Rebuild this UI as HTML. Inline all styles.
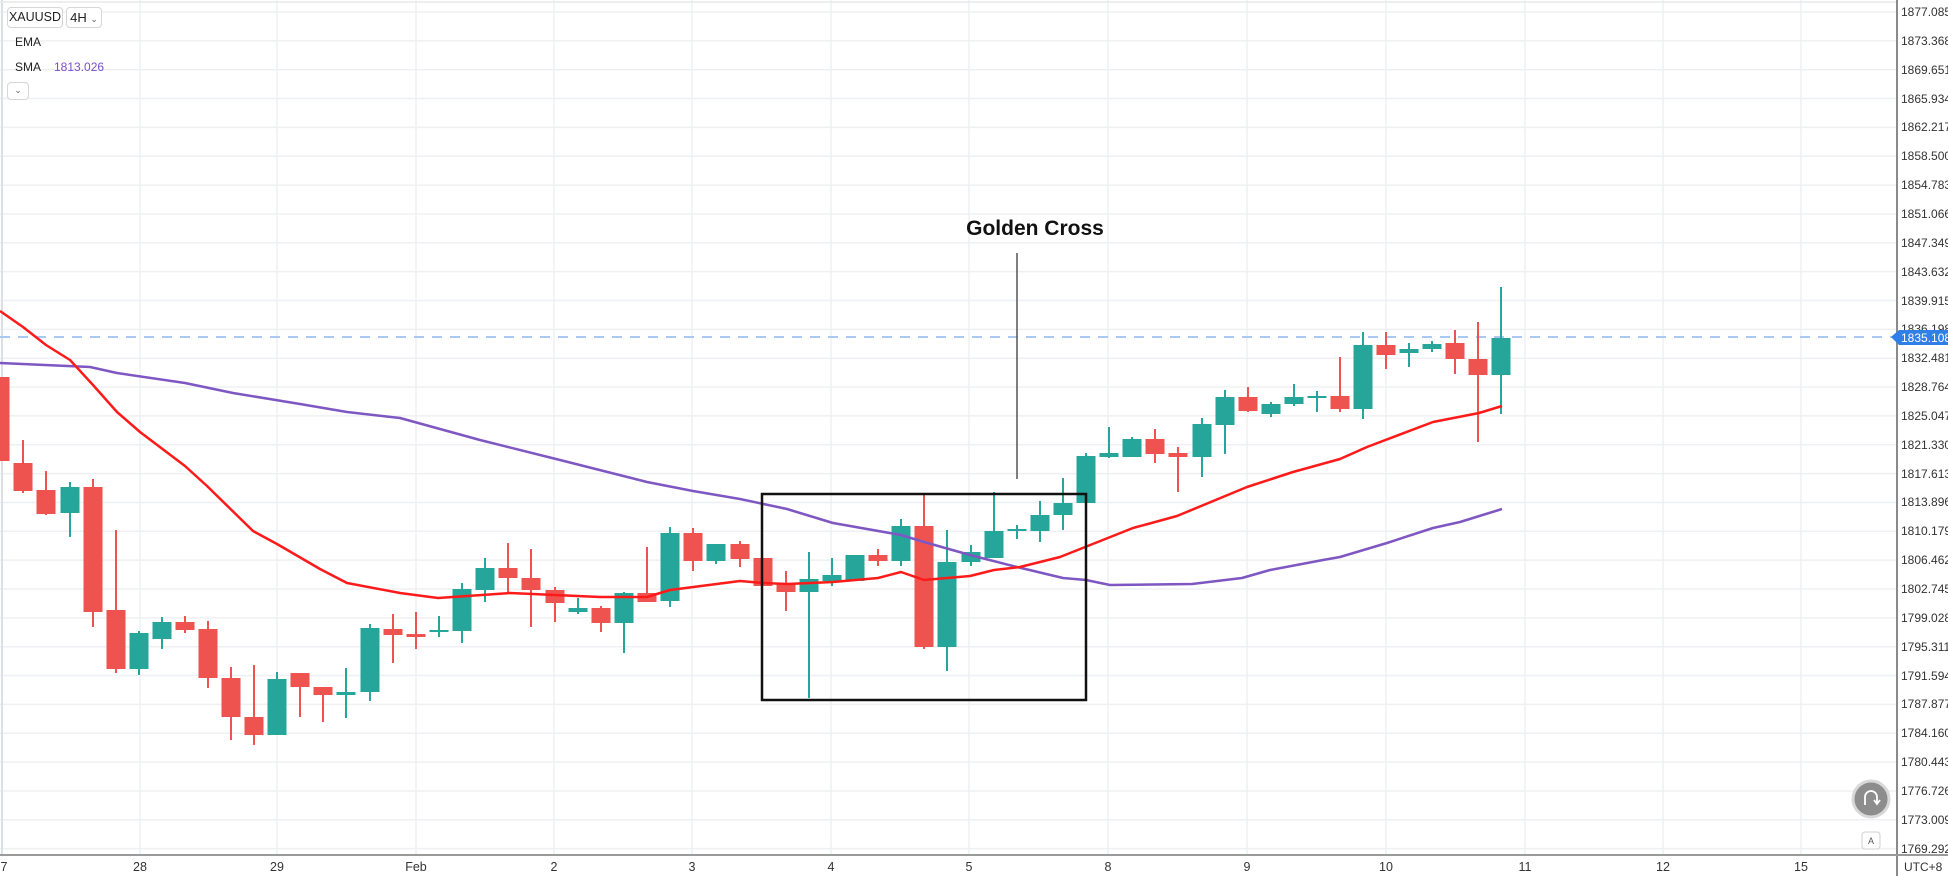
<!DOCTYPE html>
<html><head><meta charset="utf-8"><style>
html,body{margin:0;padding:0;background:#fff;}
body{width:1948px;height:876px;overflow:hidden;position:relative;font-family:"Liberation Sans",Arial,sans-serif;}
svg{position:absolute;left:0;top:0;}
.tb{position:absolute;border:1px solid #d6d6d6;border-radius:4px;background:#fff;font-size:13px;color:#222;height:19px;line-height:19px;padding:0;text-align:center;box-sizing:border-box;height:21px;}
.lg{position:absolute;font-size:12px;color:#222;}
</style></head><body>
<svg width="1948" height="876" viewBox="0 0 1948 876">
<g stroke="#eef0f3" stroke-width="1.5">
<line x1="0" y1="12" x2="1897" y2="12"/><line x1="0" y1="40.85" x2="1897" y2="40.85"/><line x1="0" y1="69.7" x2="1897" y2="69.7"/><line x1="0" y1="98.55" x2="1897" y2="98.55"/><line x1="0" y1="127.4" x2="1897" y2="127.4"/><line x1="0" y1="156.25" x2="1897" y2="156.25"/><line x1="0" y1="185.1" x2="1897" y2="185.1"/><line x1="0" y1="213.95" x2="1897" y2="213.95"/><line x1="0" y1="242.8" x2="1897" y2="242.8"/><line x1="0" y1="271.65" x2="1897" y2="271.65"/><line x1="0" y1="300.5" x2="1897" y2="300.5"/><line x1="0" y1="329.35" x2="1897" y2="329.35"/><line x1="0" y1="358.2" x2="1897" y2="358.2"/><line x1="0" y1="387.05" x2="1897" y2="387.05"/><line x1="0" y1="415.9" x2="1897" y2="415.9"/><line x1="0" y1="444.75" x2="1897" y2="444.75"/><line x1="0" y1="473.6" x2="1897" y2="473.6"/><line x1="0" y1="502.45" x2="1897" y2="502.45"/><line x1="0" y1="531.3" x2="1897" y2="531.3"/><line x1="0" y1="560.15" x2="1897" y2="560.15"/><line x1="0" y1="589" x2="1897" y2="589"/><line x1="0" y1="617.85" x2="1897" y2="617.85"/><line x1="0" y1="646.7" x2="1897" y2="646.7"/><line x1="0" y1="675.55" x2="1897" y2="675.55"/><line x1="0" y1="704.4" x2="1897" y2="704.4"/><line x1="0" y1="733.25" x2="1897" y2="733.25"/><line x1="0" y1="762.1" x2="1897" y2="762.1"/><line x1="0" y1="790.95" x2="1897" y2="790.95"/><line x1="0" y1="819.8" x2="1897" y2="819.8"/><line x1="0" y1="848.65" x2="1897" y2="848.65"/>
<line x1="140" y1="0" x2="140" y2="855"/><line x1="277" y1="0" x2="277" y2="855"/><line x1="416" y1="0" x2="416" y2="855"/><line x1="554" y1="0" x2="554" y2="855"/><line x1="692" y1="0" x2="692" y2="855"/><line x1="831" y1="0" x2="831" y2="855"/><line x1="969" y1="0" x2="969" y2="855"/><line x1="1108" y1="0" x2="1108" y2="855"/><line x1="1247" y1="0" x2="1247" y2="855"/><line x1="1386" y1="0" x2="1386" y2="855"/><line x1="1525" y1="0" x2="1525" y2="855"/><line x1="1663" y1="0" x2="1663" y2="855"/><line x1="1801" y1="0" x2="1801" y2="855"/>
</g>
<line x1="2" y1="0" x2="2" y2="855" stroke="#dcdfe5" stroke-width="2"/>
<line x1="0" y1="2" x2="1897" y2="2" stroke="#e6e8ec" stroke-width="1.5"/>
<line x1="0" y1="337" x2="1897" y2="337" stroke="#a9c8f2" stroke-width="2" stroke-dasharray="10,8"/>
<g id="c" stroke-width="2">
<line x1="0" y1="377" x2="0" y2="461" stroke="#ef5350"/><rect x="-9.5" y="377" width="19" height="84" fill="#ef5350"/>
<line x1="23" y1="440" x2="23" y2="493" stroke="#ef5350"/><rect x="13.5" y="463" width="19" height="28" fill="#ef5350"/>
<line x1="46" y1="471" x2="46" y2="515" stroke="#ef5350"/><rect x="36.5" y="490" width="19" height="24" fill="#ef5350"/>
<line x1="70" y1="482" x2="70" y2="537" stroke="#26a69a"/><rect x="60.5" y="487" width="19" height="26" fill="#26a69a"/>
<line x1="93" y1="479" x2="93" y2="627" stroke="#ef5350"/><rect x="83.5" y="487" width="19" height="125" fill="#ef5350"/>
<line x1="116" y1="530" x2="116" y2="673" stroke="#ef5350"/><rect x="106.5" y="610" width="19" height="59" fill="#ef5350"/>
<line x1="139" y1="631" x2="139" y2="675" stroke="#26a69a"/><rect x="129.5" y="633" width="19" height="36" fill="#26a69a"/>
<line x1="162" y1="617" x2="162" y2="649" stroke="#26a69a"/><rect x="152.5" y="622" width="19" height="17" fill="#26a69a"/>
<line x1="185" y1="616" x2="185" y2="633" stroke="#ef5350"/><rect x="175.5" y="622" width="19" height="8" fill="#ef5350"/>
<line x1="208" y1="621" x2="208" y2="688" stroke="#ef5350"/><rect x="198.5" y="629" width="19" height="49" fill="#ef5350"/>
<line x1="231" y1="667" x2="231" y2="740" stroke="#ef5350"/><rect x="221.5" y="678" width="19" height="39" fill="#ef5350"/>
<line x1="254" y1="665" x2="254" y2="745" stroke="#ef5350"/><rect x="244.5" y="717" width="19" height="18" fill="#ef5350"/>
<line x1="277" y1="672" x2="277" y2="735" stroke="#26a69a"/><rect x="267.5" y="679" width="19" height="56" fill="#26a69a"/>
<line x1="300" y1="673" x2="300" y2="717" stroke="#ef5350"/><rect x="290.5" y="673" width="19" height="14" fill="#ef5350"/>
<line x1="323" y1="687" x2="323" y2="722" stroke="#ef5350"/><rect x="313.5" y="687" width="19" height="8" fill="#ef5350"/>
<line x1="346" y1="668" x2="346" y2="718" stroke="#26a69a"/><rect x="336.5" y="692" width="19" height="3" fill="#26a69a"/>
<line x1="370" y1="624" x2="370" y2="701" stroke="#26a69a"/><rect x="360.5" y="628" width="19" height="64" fill="#26a69a"/>
<line x1="393" y1="614" x2="393" y2="663" stroke="#ef5350"/><rect x="383.5" y="629" width="19" height="6" fill="#ef5350"/>
<line x1="416" y1="612" x2="416" y2="649" stroke="#ef5350"/><rect x="406.5" y="634" width="19" height="3" fill="#ef5350"/>
<line x1="439" y1="616" x2="439" y2="637" stroke="#26a69a"/><rect x="429.5" y="630" width="19" height="2" fill="#26a69a"/>
<line x1="462" y1="583" x2="462" y2="643" stroke="#26a69a"/><rect x="452.5" y="589" width="19" height="42" fill="#26a69a"/>
<line x1="485" y1="558" x2="485" y2="602" stroke="#26a69a"/><rect x="475.5" y="568" width="19" height="22" fill="#26a69a"/>
<line x1="508" y1="543" x2="508" y2="593" stroke="#ef5350"/><rect x="498.5" y="568" width="19" height="10" fill="#ef5350"/>
<line x1="531" y1="549" x2="531" y2="627" stroke="#ef5350"/><rect x="521.5" y="578" width="19" height="12" fill="#ef5350"/>
<line x1="555" y1="587" x2="555" y2="622" stroke="#ef5350"/><rect x="545.5" y="590" width="19" height="13" fill="#ef5350"/>
<line x1="578" y1="598" x2="578" y2="614" stroke="#26a69a"/><rect x="568.5" y="608" width="19" height="4" fill="#26a69a"/>
<line x1="601" y1="606" x2="601" y2="632" stroke="#ef5350"/><rect x="591.5" y="608" width="19" height="15" fill="#ef5350"/>
<line x1="624" y1="592" x2="624" y2="653" stroke="#26a69a"/><rect x="614.5" y="593" width="19" height="30" fill="#26a69a"/>
<line x1="647" y1="547" x2="647" y2="602" stroke="#ef5350"/><rect x="637.5" y="593" width="19" height="9" fill="#ef5350"/>
<line x1="670" y1="527" x2="670" y2="607" stroke="#26a69a"/><rect x="660.5" y="533" width="19" height="68" fill="#26a69a"/>
<line x1="693" y1="528" x2="693" y2="571" stroke="#ef5350"/><rect x="683.5" y="533" width="19" height="28" fill="#ef5350"/>
<line x1="716" y1="544" x2="716" y2="564" stroke="#26a69a"/><rect x="706.5" y="544" width="19" height="17" fill="#26a69a"/>
<line x1="740" y1="541" x2="740" y2="567" stroke="#ef5350"/><rect x="730.5" y="544" width="19" height="15" fill="#ef5350"/>
<line x1="763" y1="558" x2="763" y2="586" stroke="#ef5350"/><rect x="753.5" y="558" width="19" height="28" fill="#ef5350"/>
<line x1="786" y1="571" x2="786" y2="611" stroke="#ef5350"/><rect x="776.5" y="583" width="19" height="9" fill="#ef5350"/>
<line x1="809" y1="552" x2="809" y2="698" stroke="#26a69a"/><rect x="799.5" y="579" width="19" height="13" fill="#26a69a"/>
<line x1="832" y1="558" x2="832" y2="586" stroke="#26a69a"/><rect x="822.5" y="575" width="19" height="6" fill="#26a69a"/>
<line x1="855" y1="555" x2="855" y2="581" stroke="#26a69a"/><rect x="845.5" y="555" width="19" height="26" fill="#26a69a"/>
<line x1="878" y1="549" x2="878" y2="566" stroke="#ef5350"/><rect x="868.5" y="555" width="19" height="6" fill="#ef5350"/>
<line x1="901" y1="519" x2="901" y2="566" stroke="#26a69a"/><rect x="891.5" y="526" width="19" height="35" fill="#26a69a"/>
<line x1="924" y1="495" x2="924" y2="649" stroke="#ef5350"/><rect x="914.5" y="526" width="19" height="121" fill="#ef5350"/>
<line x1="947" y1="530" x2="947" y2="671" stroke="#26a69a"/><rect x="937.5" y="562" width="19" height="85" fill="#26a69a"/>
<line x1="971" y1="545" x2="971" y2="566" stroke="#26a69a"/><rect x="961.5" y="552" width="19" height="10" fill="#26a69a"/>
<line x1="994" y1="492" x2="994" y2="558" stroke="#26a69a"/><rect x="984.5" y="531" width="19" height="27" fill="#26a69a"/>
<line x1="1017" y1="525" x2="1017" y2="539" stroke="#26a69a"/><rect x="1007.5" y="529" width="19" height="2" fill="#26a69a"/>
<line x1="1040" y1="501" x2="1040" y2="542" stroke="#26a69a"/><rect x="1030.5" y="515" width="19" height="16" fill="#26a69a"/>
<line x1="1063" y1="478" x2="1063" y2="530" stroke="#26a69a"/><rect x="1053.5" y="503" width="19" height="12" fill="#26a69a"/>
<line x1="1086" y1="453" x2="1086" y2="517" stroke="#26a69a"/><rect x="1076.5" y="456" width="19" height="47" fill="#26a69a"/>
<line x1="1109" y1="427" x2="1109" y2="458" stroke="#26a69a"/><rect x="1099.5" y="453" width="19" height="4" fill="#26a69a"/>
<line x1="1132" y1="437" x2="1132" y2="457" stroke="#26a69a"/><rect x="1122.5" y="439" width="19" height="18" fill="#26a69a"/>
<line x1="1155" y1="429" x2="1155" y2="463" stroke="#ef5350"/><rect x="1145.5" y="439" width="19" height="15" fill="#ef5350"/>
<line x1="1178" y1="447" x2="1178" y2="492" stroke="#ef5350"/><rect x="1168.5" y="453" width="19" height="4" fill="#ef5350"/>
<line x1="1202" y1="418" x2="1202" y2="477" stroke="#26a69a"/><rect x="1192.5" y="424" width="19" height="33" fill="#26a69a"/>
<line x1="1225" y1="390" x2="1225" y2="454" stroke="#26a69a"/><rect x="1215.5" y="397" width="19" height="28" fill="#26a69a"/>
<line x1="1248" y1="387" x2="1248" y2="412" stroke="#ef5350"/><rect x="1238.5" y="397" width="19" height="14" fill="#ef5350"/>
<line x1="1271" y1="402" x2="1271" y2="417" stroke="#26a69a"/><rect x="1261.5" y="404" width="19" height="10" fill="#26a69a"/>
<line x1="1294" y1="384" x2="1294" y2="406" stroke="#26a69a"/><rect x="1284.5" y="397" width="19" height="7" fill="#26a69a"/>
<line x1="1317" y1="391" x2="1317" y2="412" stroke="#26a69a"/><rect x="1307.5" y="396" width="19" height="2" fill="#26a69a"/>
<line x1="1340" y1="357" x2="1340" y2="412" stroke="#ef5350"/><rect x="1330.5" y="396" width="19" height="13" fill="#ef5350"/>
<line x1="1363" y1="332" x2="1363" y2="419" stroke="#26a69a"/><rect x="1353.5" y="345" width="19" height="64" fill="#26a69a"/>
<line x1="1386" y1="332" x2="1386" y2="369" stroke="#ef5350"/><rect x="1376.5" y="345" width="19" height="10" fill="#ef5350"/>
<line x1="1409" y1="343" x2="1409" y2="367" stroke="#26a69a"/><rect x="1399.5" y="349" width="19" height="4" fill="#26a69a"/>
<line x1="1432" y1="341" x2="1432" y2="352" stroke="#26a69a"/><rect x="1422.5" y="344" width="19" height="5" fill="#26a69a"/>
<line x1="1455" y1="330" x2="1455" y2="374" stroke="#ef5350"/><rect x="1445.5" y="343" width="19" height="16" fill="#ef5350"/>
<line x1="1478" y1="322" x2="1478" y2="442" stroke="#ef5350"/><rect x="1468.5" y="359" width="19" height="16" fill="#ef5350"/>
<line x1="1501" y1="287" x2="1501" y2="414" stroke="#26a69a"/><rect x="1491.5" y="338" width="19" height="37" fill="#26a69a"/>
</g>
<polyline fill="none" stroke="#7e57c2" stroke-width="2.5" stroke-linejoin="round" points="0,363 90,367 117,373 185,383 233,393 300,404 347,412 400,418 480,440 560,460 647,482 693,491 740,499 787,509 833,523 901,535 924,542 970,555 1017,567 1063,578 1086,580 1110,585 1192,584 1242,578 1270,570 1323,560 1340,557 1387,543 1433,528 1460,522 1502,509"/>
<polyline fill="none" stroke="#ff1a1a" stroke-width="2.5" stroke-linejoin="round" points="0,311 23,327 46,345 70,360 93,385 117,412 140,432 185,466 207,486 253,531 277,544 320,569 347,583 400,593 438,598 510,593 600,597 647,597 670,590 740,581 763,583 787,584 833,582 878,578 901,572 924,580 970,576 994,570 1020,567 1060,557 1133,528 1177,516 1247,487 1293,472 1340,459 1367,447 1433,422 1479,413 1502,406"/>
<rect x="762" y="494" width="324" height="206" fill="none" stroke="#111" stroke-width="2.5"/>
<line x1="1017" y1="253" x2="1017" y2="479" stroke="#555" stroke-width="1.5"/>
<text x="1035" y="235" text-anchor="middle" font-family="Liberation Sans, Arial, sans-serif" font-size="21" font-weight="bold" fill="#111">Golden Cross</text>
<rect x="1897" y="0" width="51" height="876" fill="#fff"/>
<line x1="1897" y1="0" x2="1897" y2="876" stroke="#8a8a8a" stroke-width="2"/>
<line x1="0" y1="855" x2="1948" y2="855" stroke="#9a9a9a" stroke-width="2"/>
<g font-family="Liberation Sans, Arial, sans-serif" font-size="12" fill="#333">
<text x="1901" y="16">1877.085</text><text x="1901" y="45">1873.368</text><text x="1901" y="74">1869.651</text><text x="1901" y="103">1865.934</text><text x="1901" y="131">1862.217</text><text x="1901" y="160">1858.500</text><text x="1901" y="189">1854.783</text><text x="1901" y="218">1851.066</text><text x="1901" y="247">1847.349</text><text x="1901" y="276">1843.632</text><text x="1901" y="305">1839.915</text><text x="1901" y="333">1836.198</text><text x="1901" y="362">1832.481</text><text x="1901" y="391">1828.764</text><text x="1901" y="420">1825.047</text><text x="1901" y="449">1821.330</text><text x="1901" y="478">1817.613</text><text x="1901" y="506">1813.896</text><text x="1901" y="535">1810.179</text><text x="1901" y="564">1806.462</text><text x="1901" y="593">1802.745</text><text x="1901" y="622">1799.028</text><text x="1901" y="651">1795.311</text><text x="1901" y="680">1791.594</text><text x="1901" y="708">1787.877</text><text x="1901" y="737">1784.160</text><text x="1901" y="766">1780.443</text><text x="1901" y="795">1776.726</text><text x="1901" y="824">1773.009</text><text x="1901" y="853">1769.292</text>
<text x="1904" y="871">UTC+8</text>
</g>
<path d="M1891,337 L1899,330 L1948,330 L1948,345 L1899,345 Z" fill="#2f7fe6"/>
<text x="1901" y="342" font-family="Liberation Sans, Arial, sans-serif" font-size="12" fill="#fff">1835.108</text>
<g font-family="Liberation Sans, Arial, sans-serif" font-size="12.5" fill="#333" text-anchor="middle">
<text x="4" y="871">7</text><text x="140" y="871">28</text><text x="277" y="871">29</text><text x="416" y="871">Feb</text><text x="554" y="871">2</text><text x="692" y="871">3</text><text x="831" y="871">4</text><text x="969" y="871">5</text><text x="1108" y="871">8</text><text x="1247" y="871">9</text><text x="1386" y="871">10</text><text x="1525" y="871">11</text><text x="1663" y="871">12</text><text x="1801" y="871">15</text>
</g>
<circle cx="1871" cy="799" r="18" fill="#8d8d8d" stroke="#d8d8d8" stroke-width="3"/>
<path d="M1865,805 L1865,797 A6,6 0 0 1 1877,797 L1877,803 M1874,800 L1877,804 L1880,800" fill="none" stroke="#fff" stroke-width="1.8"/>
<rect x="1862" y="832" width="18" height="17" rx="3" fill="#fff" stroke="#d0d0d0"/>
<text x="1871" y="844" text-anchor="middle" font-family="Liberation Sans, Arial, sans-serif" font-size="9" fill="#555">A</text>
</svg>
<div class="tb" style="left:7px;top:7px;width:56px;font-size:12.5px;">XAUUSD</div>
<div class="tb" style="left:66px;top:7px;width:36px;">4H <span style="font-size:9px;color:#666">&#8964;</span></div>
<div class="lg" style="left:15px;top:35px;">EMA</div>
<div class="lg" style="left:15px;top:60px;">SMA</div>
<div class="lg" style="left:54px;top:60px;color:#7b4fc9;">1813.026</div>
<div class="tb" style="left:7px;top:82px;width:22px;height:18px;line-height:14px;font-size:9px;color:#666;">&#8964;</div>
</body></html>
